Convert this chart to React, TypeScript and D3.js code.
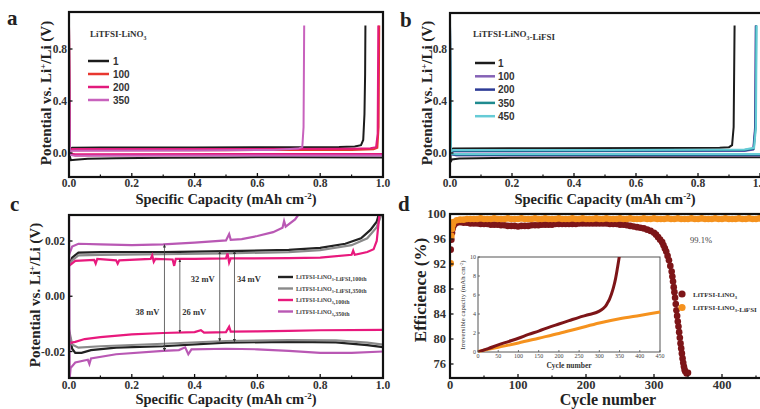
import React from 'react';
import * as d3 from 'd3';

type Pt = [number, number];

const SERIF = '"Liberation Serif", "DejaVu Serif", serif';
const SANS = '"Liberation Sans", Arial, sans-serif';

// ---------------- Panel a : LiTFSI-LiNO3 ----------------
const aLabels = ['1', '100', '200', '350'];
const aColors = ['#1c1c1c', '#e8372f', '#e21a7c', '#c862bd'];
const aPlating: Pt[][] = [
  [[0, 0.98], [0.002, -0.02], [0.006, -0.055], [0.02, -0.052], [0.06, -0.045], [0.15, -0.04], [0.3, -0.036], [0.5, -0.034], [0.7, -0.033], [1.0, -0.034]],
  [[0, 0.98], [0.003, -0.01], [0.02, -0.02], [0.1, -0.018], [0.5, -0.016], [1.0, -0.016]],
  [[0, 0.98], [0.003, -0.004], [0.02, -0.01], [0.5, -0.008], [1.0, -0.008]],
  [[0, 0.98], [0.003, -0.014], [0.02, -0.022], [0.5, -0.02], [1.0, -0.02]],
];
const aStripping: Pt[][] = [
  [[0, 0.02], [0.01, 0.04], [0.1, 0.042], [0.4, 0.043], [0.7, 0.044], [0.86, 0.046], [0.91, 0.05], [0.93, 0.06], [0.937, 0.1], [0.941, 0.3], [0.943, 0.6], [0.944, 0.98]],
  [[0, 0.01], [0.01, 0.022], [0.5, 0.022], [0.9, 0.024], [0.97, 0.028], [0.982, 0.04], [0.986, 0.2], [0.988, 0.98]],
  [[0, 0.015], [0.01, 0.03], [0.5, 0.031], [0.9, 0.033], [0.96, 0.036], [0.978, 0.045], [0.983, 0.15], [0.985, 0.98]],
  [[0, 0.01], [0.01, 0.018], [0.4, 0.02], [0.65, 0.024], [0.73, 0.034], [0.743, 0.045], [0.747, 0.2], [0.749, 0.98]],
];

// ---------------- Panel b : LiTFSI-LiNO3-LiFSI ----------------
const bLabels = ['1', '100', '200', '350', '450'];
const bColors = ['#1c1c1c', '#8562b6', '#2d3c96', '#1f8b8f', '#66cbd6'];
const bPlating: Pt[][] = [
  [[0, 0.98], [0.002, -0.07], [0.006, -0.05], [0.03, -0.042], [0.2, -0.036], [0.6, -0.033], [1.0, -0.033]],
  [[0, 0.98], [0.003, -0.01], [0.02, -0.02], [0.5, -0.019], [1.0, -0.019]],
  [[0, 0.98], [0.003, -0.008], [0.02, -0.016], [0.5, -0.015], [1.0, -0.015]],
  [[0, 0.98], [0.003, -0.006], [0.02, -0.012], [0.5, -0.011], [1.0, -0.011]],
  [[0, 1.05], [0.003, -0.003], [0.02, -0.008], [0.5, -0.007], [1.0, -0.007]],
];
const bStripping: Pt[][] = [
  [[0, 0.02], [0.01, 0.035], [0.3, 0.036], [0.7, 0.038], [0.87, 0.04], [0.9, 0.045], [0.91, 0.06], [0.915, 0.2], [0.918, 0.98]],
  [[0, 0.005], [0.01, 0.012], [0.5, 0.013], [0.95, 0.016], [0.978, 0.026], [0.984, 0.2], [0.986, 0.98]],
  [[0, 0.006], [0.01, 0.015], [0.5, 0.016], [0.95, 0.019], [0.979, 0.03], [0.985, 0.2], [0.987, 0.98]],
  [[0, 0.008], [0.01, 0.019], [0.5, 0.02], [0.95, 0.023], [0.98, 0.035], [0.986, 0.2], [0.988, 0.98]],
  [[0, 0.01], [0.01, 0.023], [0.5, 0.024], [0.95, 0.027], [0.981, 0.04], [0.987, 0.2], [0.989, 0.98]],
];

// ---------------- Panel c : overpotential detail ----------------
const cLabels = ['LiTFSI-LiNO3-LiFSI,100th', 'LiTFSI-LiNO3-LiFSI,350th', 'LiTFSI-LiNO3,100th', 'LiTFSI-LiNO3,350th'];
const cColors = ['#222222', '#8a8a8a', '#e8197d', '#b958b4'];
const cStripping: Pt[][] = [
  [[0, 0.011], [0.01, 0.014], [0.03, 0.0158], [0.1, 0.016], [0.3, 0.016], [0.5, 0.0163], [0.7, 0.0168], [0.8, 0.0175], [0.88, 0.019], [0.93, 0.021], [0.96, 0.024], [0.98, 0.027], [0.99, 0.031]],
  [[0, 0.011], [0.01, 0.013], [0.03, 0.0148], [0.1, 0.015], [0.3, 0.0152], [0.5, 0.0155], [0.7, 0.016], [0.8, 0.0167], [0.9, 0.0185], [0.95, 0.021], [0.98, 0.025], [1.0, 0.031]],
  [[0, 0.011], [0.02, 0.0128], [0.05, 0.013], [0.08, 0.0132], [0.085, 0.0118], [0.09, 0.0135], [0.15, 0.013], [0.155, 0.0118], [0.16, 0.013], [0.26, 0.0135], [0.265, 0.0148], [0.27, 0.0125], [0.275, 0.0135], [0.33, 0.0133], [0.335, 0.011], [0.34, 0.0135], [0.4, 0.0135], [0.5, 0.0137], [0.505, 0.0155], [0.51, 0.0122], [0.515, 0.0137], [0.7, 0.0138], [0.8, 0.014], [0.9, 0.015], [0.905, 0.0165], [0.91, 0.015], [0.95, 0.016], [0.97, 0.017], [0.98, 0.02], [0.99, 0.031]],
  [[0, 0.015], [0.01, 0.018], [0.03, 0.019], [0.1, 0.0188], [0.2, 0.0185], [0.3, 0.0188], [0.4, 0.0194], [0.5, 0.0202], [0.51, 0.0225], [0.515, 0.0204], [0.55, 0.0207], [0.6, 0.0218], [0.65, 0.0232], [0.68, 0.0248], [0.685, 0.0272], [0.69, 0.0252], [0.72, 0.0278], [0.74, 0.031]],
];
const cPlating: Pt[][] = [
  [[0, -0.013], [0.01, -0.019], [0.02, -0.0205], [0.04, -0.0205], [0.07, -0.0195], [0.15, -0.0186], [0.3, -0.0181], [0.5, -0.0168], [0.7, -0.0165], [0.85, -0.0167], [0.95, -0.0177], [1.0, -0.0184]],
  [[0, -0.012], [0.01, -0.0175], [0.03, -0.0186], [0.1, -0.0181], [0.3, -0.0172], [0.5, -0.0162], [0.7, -0.0159], [0.85, -0.016], [0.95, -0.0168], [1.0, -0.0175]],
  [[0, -0.017], [0.02, -0.0165], [0.05, -0.0155], [0.1, -0.0148], [0.2, -0.0138], [0.3, -0.0133], [0.4, -0.013], [0.42, -0.0123], [0.43, -0.0132], [0.5, -0.013], [0.51, -0.011], [0.515, -0.0128], [0.6, -0.0127], [0.7, -0.0125], [0.8, -0.0123], [1.0, -0.0122]],
  [[0, 0.031], [0.002, -0.03], [0.005, -0.026], [0.02, -0.024], [0.06, -0.023], [0.065, -0.0245], [0.07, -0.0225], [0.15, -0.021], [0.3, -0.0198], [0.35, -0.0195], [0.37, -0.0185], [0.38, -0.021], [0.39, -0.0192], [0.5, -0.019], [0.6, -0.0192], [0.7, -0.0198], [0.8, -0.0205], [0.9, -0.0205], [1.0, -0.02]],
];
const cGaps = [
  { x: 0.304, top: 0.0187, bottom: -0.0198, label: '38 mV', labelV: -0.0069, side: 'left' },
  { x: 0.353, top: 0.0133, bottom: -0.0131, label: '26 mV', labelV: -0.0069, side: 'right' },
  { x: 0.48, top: 0.0162, bottom: -0.0163, label: '32 mV', labelV: 0.0053, side: 'left' },
  { x: 0.527, top: 0.0164, bottom: -0.0165, label: '34 mV', labelV: 0.0053, side: 'right' },
];

// ---------------- Panel d : Coulombic efficiency ----------------
const dNames = ['LiTFSI-LiNO3', 'LiTFSI-LiNO3-LiFSI'];
const dColors = ['#7d1518', '#f5921e'];
const dRed: Pt[] = [
  [1, 94.3], [2, 95.9], [3, 97.0], [4, 97.7], [5, 98.1], [7, 98.4], [10, 98.6], [15, 98.7], [20, 98.6], [25, 98.6],
  [30, 98.5], [35, 98.5], [40, 98.5], [45, 98.4], [50, 98.4], [55, 98.4], [60, 98.3], [65, 98.3], [70, 98.3], [75, 98.2],
  [80, 98.2], [85, 98.1], [90, 98.1], [95, 98.1], [100, 98.0], [105, 98.1], [110, 98.1], [115, 98.1], [120, 98.2], [125, 98.2],
  [130, 98.2], [135, 98.3], [140, 98.3], [145, 98.3], [150, 98.3], [155, 98.4], [160, 98.4], [165, 98.4], [170, 98.4], [175, 98.4],
  [180, 98.4], [185, 98.4], [190, 98.5], [195, 98.5], [200, 98.5], [205, 98.5], [210, 98.5], [215, 98.5], [220, 98.5], [225, 98.5],
  [230, 98.5], [235, 98.4], [240, 98.4], [245, 98.4], [250, 98.3], [255, 98.3], [260, 98.2], [265, 98.1], [270, 98.0], [275, 97.9],
  [280, 97.8], [285, 97.7], [290, 97.5], [295, 97.3], [300, 97.0], [303, 96.7], [306, 96.3], [309, 95.9], [312, 95.5], [314, 95.0],
  [316, 94.5], [318, 94.0], [320, 93.3], [322, 92.6], [324, 91.7], [326, 90.8], [327, 90.0], [328, 89.2], [329, 88.3], [330, 87.5],
  [331, 86.6], [332, 85.6], [333, 84.6], [334, 83.7], [335, 82.8], [336, 82.0], [337, 81.1], [338, 80.2], [339, 79.3], [340, 78.5],
  [341, 77.7], [342, 76.9], [343, 76.2], [344, 75.6], [345, 75.1], [346, 74.8], [348, 74.5], [350, 74.6],
];
const dOrangeCycles = [1, 2, 3, 4, ...d3.range(5, 456, 5)];
const dOrangeEff = [
  92.1, 96.5, 97.6, 98.3,
  98.7, 99.0, 99.1, 99.1, 99.2, 99.2, 99.2, 99.2, 99.3, 99.2,
  99.2, 99.2, 99.3, 99.2, 99.2, 99.2, 99.3, 99.2, 99.2, 99.2,
  99.3, 99.2, 99.2, 99.2, 99.3, 99.2, 99.2, 99.3, 99.2, 99.2,
  99.2, 99.3, 99.2, 99.2, 99.2, 99.3, 99.2, 99.2, 99.3, 99.2,
  99.2, 99.2, 99.3, 99.2, 99.2, 99.3, 99.2, 99.2, 99.2, 99.3,
  99.2, 99.2, 99.3, 99.2, 99.2, 99.2, 99.3, 99.2, 99.2, 99.3,
  99.2, 99.2, 99.2, 99.3, 99.2, 99.2, 99.3, 99.2, 99.2, 99.2,
  99.3, 99.2, 99.2, 99.3, 99.2, 99.2, 99.2, 99.3, 99.2, 99.2,
  99.3, 99.2, 99.2, 99.2, 99.3, 99.2, 99.2, 99.3, 99.2, 99.2,
  99.3,
];
const insetRed: Pt[] = [[0, 0], [25, 0.35], [50, 0.75], [75, 1.1], [100, 1.45], [125, 1.85], [150, 2.2], [175, 2.6], [200, 2.95], [225, 3.3], [250, 3.65], [275, 3.95], [300, 4.3], [310, 4.6], [315, 4.8], [320, 5.15], [325, 5.55], [330, 6.1], [335, 6.8], [340, 7.7], [345, 8.9], [350, 10.2]];
const insetOrange: Pt[] = [[0, 0.05], [50, 0.5], [100, 0.95], [150, 1.45], [200, 1.95], [250, 2.5], [300, 3.05], [350, 3.5], [400, 3.85], [450, 4.2]];

// ---------------- ticks ----------------
const capTicks = [0, 0.2, 0.4, 0.6, 0.8, 1.0];
const capMinor = [0.1, 0.3, 0.5, 0.7, 0.9];
const abVoltTicks = [0.0, 0.4, 0.8];
const cVoltTicks = [-0.02, 0.0, 0.02];
const dEffTicks = [76, 80, 84, 88, 92, 96, 100];
const dCycleTicks = [0, 100, 200, 300, 400];
const dCycleMinor = [50, 150, 250, 350, 450];
const insetXTicks = [0, 50, 100, 150, 200, 250, 300, 350, 400, 450];
const insetYTicks = [0, 2, 4, 6, 8, 10];

type Box = { l: number; r: number; t: number; b: number };
const boxA: Box = { l: 69, r: 383, t: 12, b: 177 };
const boxB: Box = { l: 450, r: 764, t: 13, b: 177 };
const boxC: Box = { l: 69, r: 383, t: 215, b: 378 };
const boxD: Box = { l: 450, r: 764, t: 214, b: 378 };

const xA = d3.scaleLinear().domain([0, 1]).range([69, 383]);
const yA = d3.scaleLinear().domain([0, 0.4]).range([153, 101]);
const xB = d3.scaleLinear().domain([0, 1]).range([450, 760]);
const yB = d3.scaleLinear().domain([0, 0.4]).range([153, 101]);
const xC = d3.scaleLinear().domain([0, 1]).range([69, 383]);
const yC = d3.scaleLinear().domain([-0.02, 0.02]).range([351.5, 241]);
const xD = d3.scaleLinear().domain([0, 100]).range([450, 518]);
const yD = d3.scaleLinear().domain([76, 100]).range([364, 214]);
const xI = d3.scaleLinear().domain([0, 450]).range([478, 660]);
const yI = d3.scaleLinear().domain([0, 10]).range([352, 257]);

function lineFor(x: d3.ScaleLinear<number, number>, y: d3.ScaleLinear<number, number>, curve = d3.curveLinear) {
  return d3.line<Pt>().x((d) => x(d[0])).y((d) => y(d[1])).curve(curve);
}

function Frame({ box }: { box: Box }) {
  return <rect x={box.l} y={box.t} width={box.r - box.l} height={box.b - box.t} fill="none" stroke="#111" strokeWidth={2.2} />;
}

function XTicks({ box, x, ticks, minor, fmt, labelY, size = 12 }: any) {
  return (
    <g>
      {ticks.map((t: number) => (
        <line key={'M' + t} x1={x(t)} x2={x(t)} y1={box.b} y2={box.b - 4} stroke="#111" strokeWidth={1.3} />
      ))}
      {minor.map((t: number) => (
        <line key={'m' + t} x1={x(t)} x2={x(t)} y1={box.b} y2={box.b - 2.5} stroke="#111" strokeWidth={1.2} />
      ))}
      {ticks.map((t: number) => (
        <text key={'L' + t} x={x(t)} y={labelY} textAnchor="middle" fontSize={size} fontWeight="bold" fill="#333">{fmt(t)}</text>
      ))}
    </g>
  );
}

function YTicks({ box, y, ticks, fmt, labelX, size = 12 }: any) {
  return (
    <g>
      {ticks.map((t: number) => (
        <line key={'M' + t} x1={box.l} x2={box.l + 3.5} y1={y(t)} y2={y(t)} stroke="#111" strokeWidth={1.3} />
      ))}
      {ticks.map((t: number) => (
        <text key={'L' + t} x={labelX} y={y(t) + size * 0.35} textAnchor="end" fontSize={size} fontWeight="bold" fill="#333">{fmt(t)}</text>
      ))}
    </g>
  );
}

function CapLabel({ cx, y }: { cx: number; y: number }) {
  return (
    <text x={cx} y={y} textAnchor="middle" fontSize={14.5} fontWeight="bold" fill="#222">
      Specific Capacity (mAh cm<tspan dy={-5} fontSize={9}>-2</tspan><tspan dy={5}>)</tspan>
    </text>
  );
}

function PotLabel({ x, cy }: { x: number; cy: number }) {
  return (
    <text transform={`translate(${x},${cy}) rotate(-90)`} textAnchor="middle" fontSize={15} fontWeight="bold" fill="#222">
      Potential vs. Li<tspan dy={-5} fontSize={9}>+</tspan><tspan dy={5}>/Li (V)</tspan>
    </text>
  );
}

function Sub3({ text, size }: { text: string; size: number }) {
  // renders "LiNO3" with subscript 3
  const parts = text.split('NO3');
  return (
    <>
      {parts.map((p, i) => (
        <React.Fragment key={i}>
          <tspan>{p}</tspan>
          {i < parts.length - 1 && (
            <>
              <tspan>NO</tspan>
              <tspan dy={size * 0.3} fontSize={size * 0.65}>3</tspan>
              <tspan dy={-size * 0.3}>{''}</tspan>
            </>
          )}
        </React.Fragment>
      ))}
    </>
  );
}

export default function App() {
  const lA = lineFor(xA, yA);
  const lB = lineFor(xB, yB);
  const lC = lineFor(xC, yC);
  const lI = lineFor(xI, yI, d3.curveMonotoneX);
  const fmt1 = (v: number) => v.toFixed(1);
  const fmt2 = (v: number) => v.toFixed(2);

  return (
    <svg width={760} height={409} style={{ position: 'absolute', left: 0, top: 0, background: '#fff' }} fontFamily={SERIF}>
      <defs>
        {[boxA, boxB, boxC, boxD].map((b, i) => (
          <clipPath id={'clip' + i} key={i}>
            <rect x={b.l} y={b.t} width={b.r - b.l} height={b.b - b.t} />
          </clipPath>
        ))}
        <clipPath id="clipInset"><rect x={478} y={257} width={182} height={95} /></clipPath>
        <marker id="arrow" viewBox="0 0 6 6" refX="5.5" refY="3" markerWidth="4" markerHeight="4" orient="auto-start-reverse">
          <path d="M0,0 L6,3 L0,6 z" fill="#333" />
        </marker>
      </defs>
      <rect x={0} y={0} width={760} height={409} fill="#fff" />

      {/* ================= Panel a ================= */}
      <g clipPath="url(#clip0)">
        {aLabels.map((_, i) => (
          <g key={i}>
            <path d={lA(aPlating[i]) || ''} fill="none" stroke={aColors[i]} strokeWidth={2} />
            <path d={lA(aStripping[i]) || ''} fill="none" stroke={aColors[i]} strokeWidth={2} />
          </g>
        ))}
      </g>
      <XTicks box={boxA} x={xA} ticks={capTicks} minor={capMinor} fmt={fmt1} labelY={187} size={11.5} />
      <YTicks box={boxA} y={yA} ticks={abVoltTicks} fmt={fmt1} labelX={67} size={11.5} />
      <Frame box={boxA} />
      <CapLabel cx={226} y={204} />
      <PotLabel x={51} cy={93} />
      <text x={7} y={25} fontSize={21} fontWeight="bold" fill="#222">a</text>
      <text x={90} y={37} fontSize={9} fontWeight="bold" fill="#333"><Sub3 text="LiTFSI-LiNO3" size={9} /></text>
      {aLabels.map((lab, i) => (
        <g key={lab}>
          <line x1={88} x2={109} y1={61 + i * 13} y2={61 + i * 13} stroke={aColors[i]} strokeWidth={2.5} />
          <text x={113} y={61 + i * 13 + 3.6} fontFamily={SANS} fontSize={10} fontWeight="bold" fill="#333">{lab}</text>
        </g>
      ))}

      {/* ================= Panel b ================= */}
      <g clipPath="url(#clip1)">
        {bLabels.map((_, i) => (
          <g key={i}>
            <path d={lB(bPlating[i]) || ''} fill="none" stroke={bColors[i]} strokeWidth={2} />
            <path d={lB(bStripping[i]) || ''} fill="none" stroke={bColors[i]} strokeWidth={2} />
          </g>
        ))}
      </g>
      <XTicks box={boxB} x={xB} ticks={capTicks} minor={capMinor} fmt={fmt1} labelY={187} size={11.5} />
      <YTicks box={boxB} y={yB} ticks={abVoltTicks} fmt={fmt1} labelX={447} size={11.5} />
      <Frame box={boxB} />
      <CapLabel cx={605} y={204} />
      <PotLabel x={432} cy={93} />
      <text x={400} y={27} fontSize={21} fontWeight="bold" fill="#222">b</text>
      <text x={473} y={37} fontSize={9} fontWeight="bold" fill="#333"><Sub3 text="LiTFSI-LiNO3-LiFSI" size={9} /></text>
      {bLabels.map((lab, i) => (
        <g key={lab}>
          <line x1={475} x2={495} y1={63 + i * 13.3} y2={63 + i * 13.3} stroke={bColors[i]} strokeWidth={2.5} />
          <text x={498} y={63 + i * 13.3 + 3.6} fontFamily={SANS} fontSize={10} fontWeight="bold" fill="#333">{lab}</text>
        </g>
      ))}

      {/* ================= Panel c ================= */}
      <g clipPath="url(#clip2)">
        {cLabels.map((_, i) => (
          <g key={i}>
            <path d={lC(cPlating[i]) || ''} fill="none" stroke={cColors[i]} strokeWidth={2.2} />
            <path d={lC(cStripping[i]) || ''} fill="none" stroke={cColors[i]} strokeWidth={2.2} />
          </g>
        ))}
        {cGaps.map((g) => (
          <g key={g.label}>
            <line x1={xC(g.x)} x2={xC(g.x)} y1={yC(g.top)} y2={yC(g.bottom)} stroke="#444" strokeWidth={0.8} markerStart="url(#arrow)" markerEnd="url(#arrow)" />
            <text x={g.side === 'left' ? xC(g.x) - 5 : xC(g.x) + 2.5} y={yC(g.labelV)} textAnchor={g.side === 'left' ? 'end' : 'start'} fontSize={8.5} fontWeight="bold" fill="#333">{g.label}</text>
          </g>
        ))}
      </g>
      <XTicks box={boxC} x={xC} ticks={capTicks} minor={capMinor} fmt={fmt1} labelY={389} size={11.5} />
      <YTicks box={boxC} y={yC} ticks={cVoltTicks} fmt={fmt2} labelX={65} size={11.5} />
      <Frame box={boxC} />
      <CapLabel cx={226} y={404} />
      <PotLabel x={40} cy={295} />
      <text x={10} y={211} fontSize={21} fontWeight="bold" fill="#222">c</text>
      {cLabels.map((lab, i) => (
        <g key={lab}>
          <line x1={278} x2={293} y1={277 + i * 11.5} y2={277 + i * 11.5} stroke={cColors[i]} strokeWidth={2.4} />
          <text x={296} y={277 + i * 11.5 + 2.2} fontSize={6} fontWeight="bold" fill="#444"><Sub3 text={lab} size={6} /></text>
        </g>
      ))}

      {/* ================= Panel d ================= */}
      <g clipPath="url(#clip3)">
        {dRed.map((d, i) => (
          <circle key={'r' + i} cx={xD(d[0])} cy={yD(d[1])} r={3.3} fill={dColors[0]} />
        ))}
        {dOrangeEff.map((v, i) => (
          <circle key={'o' + i} cx={xD(dOrangeCycles[i])} cy={yD(v)} r={3.3} fill={dColors[1]} />
        ))}
      </g>
      <XTicks box={boxD} x={xD} ticks={dCycleTicks} minor={dCycleMinor} fmt={(v: number) => String(v)} labelY={389} size={12.5} />
      <YTicks box={boxD} y={yD} ticks={dEffTicks} fmt={(v: number) => String(v)} labelX={446} size={12.5} />
      <Frame box={boxD} />
      <text x={608} y={405} textAnchor="middle" fontSize={16} fontWeight="bold" fill="#222">Cycle number</text>
      <text transform="translate(426,290) rotate(-90)" textAnchor="middle" fontSize={17} fontWeight="bold" fill="#222">Efficience (%)</text>
      <text x={398} y={211} fontSize={21} fontWeight="bold" fill="#222">d</text>
      <text x={690} y={243} fontSize={8.5} fill="#444">99.1%</text>
      {dNames.map((n, i) => (
        <g key={n}>
          <circle cx={682} cy={294 + i * 13.5} r={3.6} fill={dColors[i]} />
          <text x={693} y={294 + i * 13.5 + 2.5} fontSize={7} fontWeight="bold" fill="#333"><Sub3 text={n} size={7} /></text>
        </g>
      ))}

      {/* inset */}
      <rect x={478} y={257} width={182} height={95} fill="#fff" stroke="#555" strokeWidth={1} />
      <path d={lI(insetOrange) || ''} fill="none" stroke={dColors[1]} strokeWidth={3} />
      <path clipPath="url(#clipInset)" d={lI(insetRed) || ''} fill="none" stroke={dColors[0]} strokeWidth={3} />
      {insetXTicks.map((t) => (
        <g key={'ix' + t}>
          <line x1={xI(t)} x2={xI(t)} y1={352} y2={350} stroke="#555" strokeWidth={0.8} />
          <text x={xI(t)} y={358} textAnchor="middle" fontSize={6} fill="#444">{t}</text>
        </g>
      ))}
      {insetYTicks.map((t) => (
        <g key={'iy' + t}>
          <line x1={478} x2={480} y1={yI(t)} y2={yI(t)} stroke="#555" strokeWidth={0.8} />
          <text x={476} y={yI(t) + 2} textAnchor="end" fontSize={6} fill="#444">{t}</text>
        </g>
      ))}
      <text x={569} y={367.5} textAnchor="middle" fontSize={7.5} fontWeight="bold" fill="#333">Cycle number</text>
      <text transform="translate(465,305) rotate(-90)" textAnchor="middle" fontSize={6.8} fill="#333">
        Irreversible capacity (mAh cm<tspan dy={-2.5} fontSize={4.5}>-2</tspan><tspan dy={2.5}>)</tspan>
      </text>
    </svg>
  );
}
